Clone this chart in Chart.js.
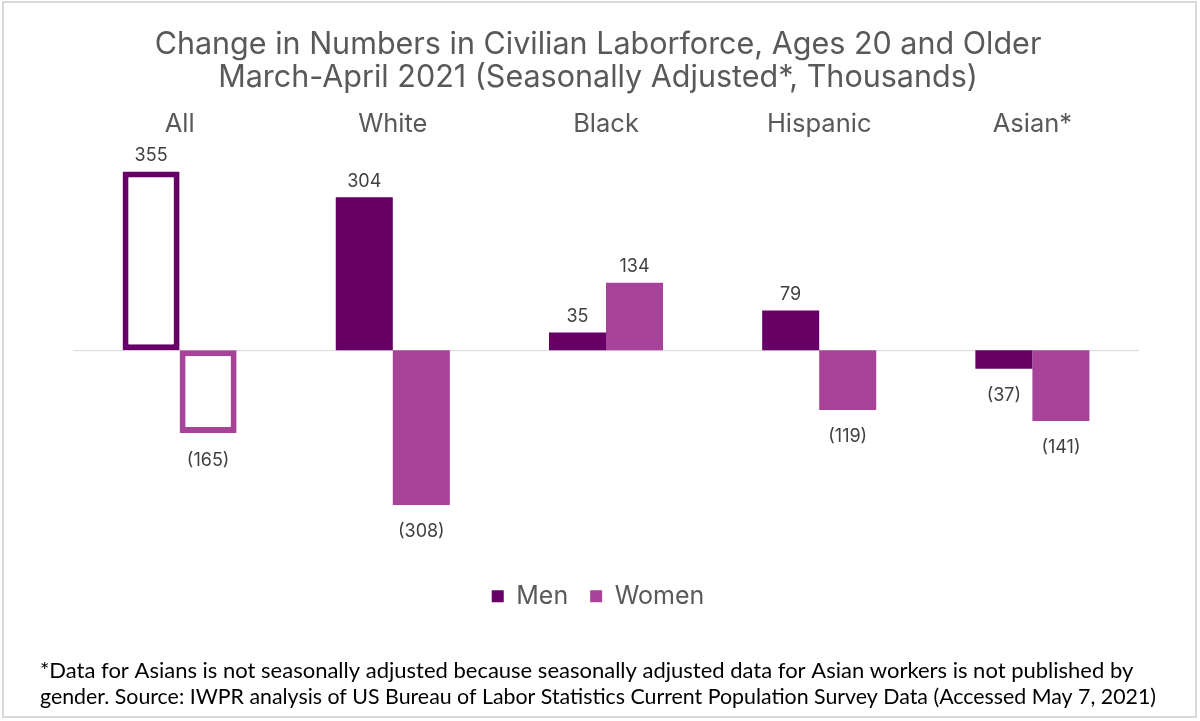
<!DOCTYPE html>
<html lang="en">
<head>
  <meta charset="UTF-8">
  <title>Civilian Laborforce Change</title>
  <script src="https://cdn.jsdelivr.net/npm/chart.js"></script>
  <style>
    body { margin: 0; background: #fff; }
    #wrap { width: 1200px; height: 721px; }
  </style>
</head>
<body>
<div id="wrap"><canvas id="laborChart" width="1200" height="721"></canvas></div>

<script>
  const groups = ['All', 'White', 'Black', 'Hispanic', 'Asian*'];
  const men = [355, 304, 35, 79, -37];
  const women = [-165, -308, 134, -119, -141];

  const titleLines = [
    'Change in Numbers in Civilian Laborforce, Ages 20 and Older',
    'March-April 2021 (Seasonally Adjusted*, Thousands)'
  ];
  const noteLines = [
    '*Data for Asians is not seasonally adjusted because seasonally adjusted data for Asian workers is not published by',
    'gender. Source: IWPR analysis of US Bureau of Labor Statistics Current Population Survey Data (Accessed May 7, 2021)'
  ];

  const MEN_COLOR = '#660066';
  const WOMEN_COLOR = '#A8439A';
  const FONT = 'Inter, "Noto Sans", sans-serif';

  // frame + zero line
  const framePlugin = {
    id: 'frame',
    beforeDraw(chart) {
      const c = chart.ctx;
      c.save();
      c.fillStyle = '#fff';
      c.fillRect(0, 0, chart.width, chart.height);
      c.strokeStyle = '#d9d9d9';
      c.lineWidth = 2;
      c.strokeRect(3, 2, 1193, 715);
      c.restore();
    },
    beforeDatasetsDraw(chart) {
      const c = chart.ctx;
      const y0 = chart.scales.y.getPixelForValue(0);
      c.save();
      c.strokeStyle = '#d9d9d9';
      c.lineWidth = 1;
      c.beginPath();
      c.moveTo(chart.chartArea.left, y0 + 0.5);
      c.lineTo(chart.chartArea.right, y0 + 0.5);
      c.stroke();
      c.restore();
    }
  };

  // value labels, negatives in parentheses
  const valueLabels = {
    id: 'valueLabels',
    afterDatasetsDraw(chart) {
      const c = chart.ctx;
      c.save();
      c.font = '18px ' + FONT;
      c.fillStyle = '#404040';
      c.textAlign = 'center';
      c.textBaseline = 'middle';
      chart.data.datasets.forEach((ds, i) => {
        chart.getDatasetMeta(i).data.forEach((bar, j) => {
          const v = ds.data[j];
          const txt = v < 0 ? '(' + (-v) + ')' : String(v);
          const y = v < 0 ? bar.y + 27 : bar.y - 16;
          c.fillText(txt, bar.x, y);
        });
      });
      c.restore();
    }
  };

  const outlineFirst = (color) => (ctx) => ctx.dataIndex === 0 ? '#ffffff' : color;

  new Chart(document.getElementById('laborChart'), {
    type: 'bar',
    data: {
      labels: groups,
      datasets: [
        {
          label: 'Men',
          data: men,
          backgroundColor: outlineFirst(MEN_COLOR),
          borderColor: MEN_COLOR,
          borderWidth: (ctx) => ctx.dataIndex === 0 ? 6 : 0,
          borderSkipped: false
        },
        {
          label: 'Women',
          data: women,
          backgroundColor: outlineFirst(WOMEN_COLOR),
          borderColor: WOMEN_COLOR,
          borderWidth: (ctx) => ctx.dataIndex === 0 ? 6 : 0,
          borderSkipped: false
        }
      ]
    },
    options: {
      responsive: false,
      animation: false,
      categoryPercentage: 0.535,
      barPercentage: 1,
      layout: { padding: { top: 8, left: 40, right: 44, bottom: 12 } },
      scales: {
        x: {
          position: 'top',
          grid: { display: false },
          border: { display: false },
          ticks: { color: '#595959', font: { family: FONT, size: 25.5 }, padding: 2 }
        },
        y: {
          min: -421,
          max: 399,
          grid: { display: false },
          border: { display: false },
          ticks: { display: false },
          afterFit(scale) { scale.width = 33; }
        },
        y2: {
          position: 'right',
          min: 0,
          max: 1,
          grid: { display: false },
          border: { display: false },
          ticks: { display: false },
          afterFit(scale) { scale.width = 17; }
        }
      },
      plugins: {
        title: {
          display: true,
          text: titleLines,
          color: '#595959',
          font: { family: FONT, size: 30.5, weight: 'normal', lineHeight: 1.08 },
          padding: { top: 20, bottom: 13 }
        },
        subtitle: {
          display: true,
          position: 'bottom',
          align: 'start',
          text: noteLines,
          color: '#000000',
          font: { family: 'Lato, "Open Sans", sans-serif', size: 22, lineHeight: 1.14 },
          padding: { top: 40, bottom: 0 }
        },
        legend: {
          position: 'bottom',
          labels: {
            color: '#595959',
            font: { family: FONT, size: 25 },
            boxWidth: 12,
            boxHeight: 12,
            padding: 22,
            generateLabels(chart) {
              return chart.data.datasets.map((ds, i) => ({
                text: ds.label,
                fillStyle: ds.borderColor,
                strokeStyle: ds.borderColor,
                lineWidth: 0,
                fontColor: '#595959',
                hidden: false,
                datasetIndex: i
              }));
            }
          }
        },
        tooltip: { enabled: false }
      }
    },
    plugins: [framePlugin, valueLabels]
  });
</script>
</body>
</html>
